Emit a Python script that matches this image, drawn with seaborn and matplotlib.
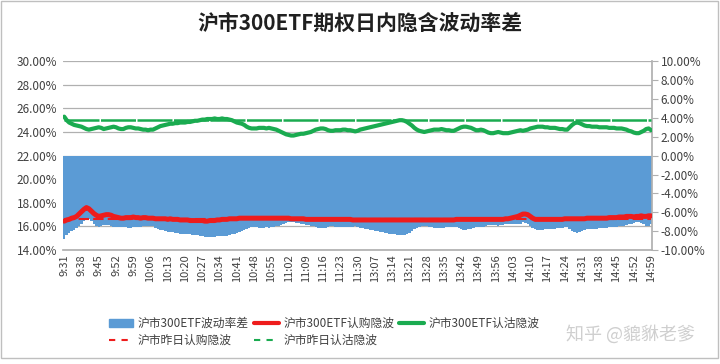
import numpy as np
import pandas as pd
import matplotlib
matplotlib.use("Agg")
import matplotlib.pyplot as plt
import seaborn as sns
from matplotlib.patches import Patch, Rectangle
from matplotlib.lines import Line2D
from matplotlib.ticker import MultipleLocator, FuncFormatter

# trading minutes: morning 9:31-11:30, afternoon 13:01-14:59
am = pd.date_range("2020-01-01 09:31", "2020-01-01 11:30", freq="min")
pm = pd.date_range("2020-01-01 13:01", "2020-01-01 14:59", freq="min")
times = [f"{t.hour}:{t.minute:02d}" for t in am.append(pm)]

# put implied vol (%)
put_iv = [
    25.30, 25.00, 24.80, 24.70, 24.60, 24.55, 24.50, 24.45, 24.35, 24.25,
    24.20, 24.25, 24.30, 24.35, 24.40, 24.35, 24.25, 24.30, 24.35, 24.40,
    24.45, 24.40, 24.30, 24.25, 24.25, 24.35, 24.40, 24.40, 24.35, 24.30,
    24.30, 24.25, 24.20, 24.20, 24.15, 24.20, 24.20, 24.30, 24.40, 24.50,
    24.55, 24.60, 24.65, 24.70, 24.70, 24.75, 24.75, 24.80, 24.80, 24.80,
    24.85, 24.85, 24.90, 24.95, 24.95, 25.00, 25.05, 25.05, 25.10, 25.10,
    25.10, 25.15, 25.10, 25.10, 25.15, 25.10, 25.10, 25.05, 25.00, 24.90,
    24.80, 24.75, 24.70, 24.60, 24.45, 24.35, 24.30, 24.30, 24.30, 24.35,
    24.35, 24.35, 24.30, 24.35, 24.30, 24.25, 24.20, 24.10, 24.00, 23.90,
    23.80, 23.75, 23.70, 23.70, 23.75, 23.80, 23.85, 23.85, 23.90, 23.95,
    24.00, 24.10, 24.20, 24.25, 24.30, 24.30, 24.25, 24.15, 24.10, 24.10,
    24.15, 24.15, 24.15, 24.20, 24.20, 24.15, 24.15, 24.10, 24.05, 24.10,
    24.20, 24.25, 24.30, 24.35, 24.40, 24.45, 24.50, 24.55, 24.60, 24.65,
    24.70, 24.75, 24.80, 24.85, 24.90, 24.95, 25.00, 25.00, 24.95, 24.85,
    24.70, 24.55, 24.35, 24.20, 24.10, 24.05, 24.00, 24.05, 24.10, 24.15,
    24.20, 24.20, 24.20, 24.25, 24.20, 24.15, 24.15, 24.10, 24.10, 24.20,
    24.30, 24.40, 24.45, 24.45, 24.40, 24.35, 24.25, 24.15, 24.15, 24.20,
    24.15, 24.05, 23.95, 23.90, 23.90, 23.95, 24.00, 23.95, 23.90, 23.90,
    23.90, 23.95, 24.00, 24.05, 24.10, 24.15, 24.10, 24.15, 24.20, 24.30,
    24.35, 24.40, 24.45, 24.45, 24.45, 24.40, 24.40, 24.35, 24.35, 24.35,
    24.30, 24.25, 24.25, 24.20, 24.20, 24.40, 24.60, 24.75, 24.80, 24.75,
    24.65, 24.55, 24.50, 24.50, 24.45, 24.45, 24.45, 24.40, 24.40, 24.40,
    24.40, 24.35, 24.35, 24.35, 24.30, 24.30, 24.30, 24.25, 24.20, 24.10,
    24.05, 23.95, 23.90, 23.90, 24.00, 24.10, 24.25, 24.30, 24.15,
]

# call implied vol (%)
call_iv = [
    16.45, 16.55, 16.60, 16.70, 16.75, 16.85, 17.05, 17.25, 17.45, 17.60,
    17.50, 17.30, 17.10, 16.95, 16.85, 16.90, 16.95, 17.00, 17.00, 16.95,
    16.85, 16.80, 16.75, 16.70, 16.70, 16.75, 16.75, 16.75, 16.80, 16.75,
    16.75, 16.70, 16.75, 16.75, 16.70, 16.70, 16.70, 16.65, 16.65, 16.65,
    16.65, 16.65, 16.60, 16.65, 16.60, 16.60, 16.60, 16.55, 16.55, 16.55,
    16.55, 16.50, 16.50, 16.50, 16.50, 16.50, 16.50, 16.45, 16.45, 16.50,
    16.50, 16.50, 16.55, 16.55, 16.60, 16.60, 16.60, 16.65, 16.65, 16.65,
    16.65, 16.70, 16.70, 16.70, 16.70, 16.70, 16.70, 16.70, 16.70, 16.70,
    16.70, 16.70, 16.70, 16.70, 16.70, 16.70, 16.70, 16.70, 16.70, 16.70,
    16.70, 16.70, 16.65, 16.65, 16.65, 16.65, 16.65, 16.65, 16.60, 16.60,
    16.60, 16.60, 16.60, 16.60, 16.60, 16.60, 16.60, 16.60, 16.60, 16.60,
    16.60, 16.60, 16.60, 16.60, 16.60, 16.60, 16.60, 16.55, 16.55, 16.55,
    16.55, 16.55, 16.55, 16.55, 16.55, 16.55, 16.55, 16.55, 16.55, 16.55,
    16.55, 16.55, 16.55, 16.55, 16.55, 16.55, 16.55, 16.55, 16.55, 16.55,
    16.55, 16.55, 16.55, 16.55, 16.55, 16.55, 16.55, 16.55, 16.55, 16.55,
    16.55, 16.55, 16.55, 16.55, 16.55, 16.55, 16.55, 16.55, 16.55, 16.60,
    16.60, 16.60, 16.60, 16.60, 16.60, 16.60, 16.60, 16.60, 16.60, 16.60,
    16.60, 16.60, 16.60, 16.60, 16.60, 16.60, 16.60, 16.60, 16.60, 16.65,
    16.65, 16.70, 16.75, 16.80, 16.85, 16.95, 17.05, 17.05, 17.00, 16.85,
    16.70, 16.60, 16.60, 16.60, 16.60, 16.60, 16.60, 16.60, 16.60, 16.60,
    16.60, 16.60, 16.60, 16.65, 16.65, 16.65, 16.65, 16.65, 16.65, 16.65,
    16.65, 16.65, 16.70, 16.70, 16.70, 16.70, 16.70, 16.70, 16.70, 16.70,
    16.70, 16.75, 16.75, 16.75, 16.75, 16.80, 16.80, 16.80, 16.85, 16.85,
    16.85, 16.80, 16.85, 16.85, 16.90, 16.85, 16.85, 16.90, 16.90,
]

prev_call_iv = 16.60   # 沪市昨日认购隐波 (flat)
prev_put_iv = 25.00    # 沪市昨日认沽隐波 (flat)

n = len(times)
assert len(put_iv) == n and len(call_iv) == n, (len(put_iv), len(call_iv), n)

df = pd.DataFrame({"t": range(n), "call": call_iv, "put": put_iv})
df["spread"] = df["call"] - df["put"]
df["prev_call"] = prev_call_iv
df["prev_put"] = prev_put_iv

BLUE = "#5b9bd5"
RED = "#ee1c1c"
GREEN = "#1aab50"
GRID = "#b0b0b0"
TXT = "#404040"

sns.set_theme(style="white")
plt.rcParams["font.family"] = ["Noto Sans CJK SC", "DejaVu Sans"]

fig = plt.figure(figsize=(7.2, 3.64), dpi=100)
ax = fig.add_axes([0.0875, 0.313, 0.8185, 0.519])

# right axis: spread bars
ax2 = ax.twinx()
sns.barplot(x="t", y="spread", data=df, ax=ax2, color=BLUE, saturation=1,
            width=1.0, errorbar=None, linewidth=0)

# third axis on the left scale for the lines, drawn above the bars
ax3 = ax.twinx()
sns.lineplot(x="t", y="prev_call", data=df, ax=ax3, color=RED, lw=1.5,
             linestyle=(0, (5, 2)))
sns.lineplot(x="t", y="prev_put", data=df, ax=ax3, color=GREEN, lw=1.8,
             linestyle=(0, (14, 0.6)))
sns.lineplot(x="t", y="call", data=df, ax=ax3, color=RED, lw=3.6)
sns.lineplot(x="t", y="put", data=df, ax=ax3, color=GREEN, lw=3.0)

for a in (ax, ax3):
    a.set_ylim(14, 30)
ax2.set_ylim(-10, 10)
ax.set_xlim(-0.5, n - 0.5)

pct = FuncFormatter(lambda v, p: f"{v:.2f}%")
ax.yaxis.set_major_locator(MultipleLocator(2))
ax.yaxis.set_major_formatter(pct)
ax2.yaxis.set_major_locator(MultipleLocator(2))
ax2.yaxis.set_major_formatter(pct)

ax.grid(axis="y", color=GRID, lw=0.9)
ax.grid(axis="x", visible=False)

ax.set_xticks(range(0, n, 7))
ax.set_xticklabels(times[::7], rotation=90)
ax.tick_params(axis="x", labelsize=8, colors=TXT, length=0, pad=3)
ax.tick_params(axis="y", labelsize=8.5, colors=TXT, length=0, pad=4)
ax2.tick_params(axis="y", labelsize=8.5, colors=TXT, length=4, width=0.8,
                color=GRID, direction="out", pad=2)

for a in (ax, ax2, ax3):
    a.set_xlabel("")
    a.set_ylabel("")
for s in ("left", "right", "top"):
    ax.spines[s].set_visible(False)
for s in ("left", "top", "bottom"):
    ax2.spines[s].set_visible(False)
ax.spines["bottom"].set_color(GRID)
ax2.spines["right"].set_color(GRID)
ax3.set_axis_off()

fig.text(0.5, 0.935, "沪市300ETF期权日内隐含波动率差", ha="center", va="center",
         fontsize=15, fontweight="bold", color="#202020")

handles = [
    Patch(color=BLUE),
    Line2D([], [], color=RED, lw=1.5, linestyle=(0, (3, 3))),
    Line2D([], [], color=RED, lw=3),
    Line2D([], [], color=GREEN, lw=1.5, linestyle=(0, (3, 3))),
    Line2D([], [], color=GREEN, lw=3),
]
labels = ["沪市300ETF波动率差", "沪市昨日认购隐波", "沪市300ETF认购隐波",
          "沪市昨日认沽隐波", "沪市300ETF认沽隐波"]
fig.legend(handles, labels, ncol=3, loc="center", bbox_to_anchor=(0.45, 0.088),
           frameon=False, fontsize=8.5, handlelength=2.1, columnspacing=0.4,
           handletextpad=0.4, labelspacing=0.35, labelcolor=TXT)

fig.text(0.875, 0.082, "知乎 @貔貅老爹", ha="center", va="center",
         fontsize=13, color="#cfcfcf")

fig.patches.append(Rectangle((0.002, 0.017), 0.995, 0.98, transform=fig.transFigure,
                             fill=False, ec="#bfbfbf", lw=1))

fig.savefig("out.png", dpi=100)
